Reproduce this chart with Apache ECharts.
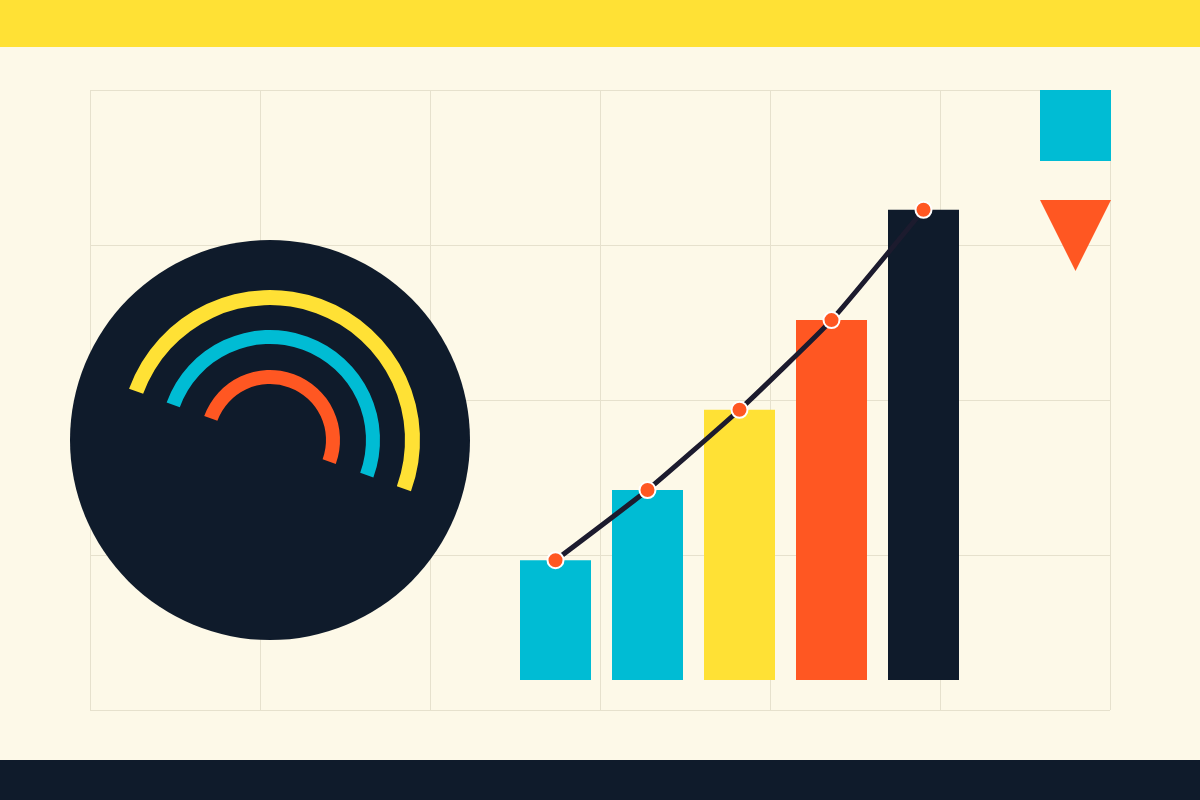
<!DOCTYPE html>
<html>
<head>
<meta charset="utf-8">
<script src="https://cdn.jsdelivr.net/npm/echarts@6/dist/echarts.min.js"></script>
<style>
html,body{margin:0;padding:0;background:#FDF9E8;}
#chart{width:1200px;height:800px;}
</style>
</head>
<body>
<div id="chart"></div>
<script>
// ---- data ----
const categories = ['A', 'B', 'C', 'D', 'E'];
const barValues = [20.3, 32.2, 45.8, 61, 79.7];
const trendValues = [20.3, 32.2, 45.8, 61, 79.7];
const barColors = ['#00BCD4', '#00BCD4', '#FFE135', '#FF5722', '#0F1B2B'];
const arcNames = ['outer', 'middle', 'inner'];
const arcValues = [180, 180, 180];      // degrees of each arc
const arcGaps = [180, 180, 180];        // remaining (hidden) part
const arcColors = ['#FFE135', '#00BCD4', '#FF5722'];
const arcRadii = [[135, 150], [96, 110], [56, 70]];
const discValue = [1];
const legendNames = ['Bars', 'Trend'];

const BG = '#FDF9E8';
const GRIDLINE = '#E6E1CD';
const DARK = '#0F1B2B';

const chart = echarts.init(document.getElementById('chart'), null, {renderer: 'canvas'});

const arcSeries = arcNames.map((n, i) => ({
  type: 'pie',
  name: n,
  silent: true,
  z: 5,
  center: [270, 440],
  radius: arcRadii[i],
  startAngle: 160,
  clockwise: true,
  label: {show: false},
  labelLine: {show: false},
  emphasis: {disabled: true},
  itemStyle: {borderWidth: 0},
  data: [
    {name: n + '-arc', value: arcValues[i], itemStyle: {color: arcColors[i]}},
    {name: n + '-gap', value: arcGaps[i], itemStyle: {color: 'rgba(0,0,0,0)'}}
  ]
}));

const option = {
  backgroundColor: BG,
  animation: false,
  graphic: [
    {type: 'rect', left: 0, top: 0, shape: {width: 1200, height: 47}, style: {fill: '#FFE135'}, silent: true},
    {type: 'rect', left: 0, top: 760, shape: {width: 1200, height: 40}, style: {fill: DARK}, silent: true}
  ],
  legend: {
    orient: 'vertical',
    left: 1040,
    top: 90,
    padding: 0,
    itemWidth: 71,
    itemHeight: 71,
    itemGap: 39,
    selectedMode: false,
    formatter: () => '',
    data: [
      {name: legendNames[0], icon: 'rect', itemStyle: {color: '#00BCD4', borderWidth: 0}},
      {name: legendNames[1], icon: 'path://M0,0L10,0L5,10Z', itemStyle: {color: '#FF5722', borderWidth: 0}}
    ]
  },
  grid: [
    {left: 90, right: 90, top: 90, bottom: 90, show: false},
    {left: 509.5, width: 460, top: 90, bottom: 120, show: false}
  ],
  xAxis: [
    {gridIndex: 0, type: 'value', min: 0, max: 6, interval: 1,
     axisLine: {show: false}, axisTick: {show: false}, axisLabel: {show: false},
     splitLine: {show: true, lineStyle: {color: GRIDLINE, width: 1}}},
    {gridIndex: 1, type: 'category', data: categories,
     axisLine: {show: false}, axisTick: {show: false}, axisLabel: {show: false}, splitLine: {show: false}}
  ],
  yAxis: [
    {gridIndex: 0, type: 'value', min: 0, max: 4, interval: 1,
     axisLine: {show: false}, axisTick: {show: false}, axisLabel: {show: false},
     splitLine: {show: true, lineStyle: {color: GRIDLINE, width: 1}}},
    {gridIndex: 1, type: 'value', min: 0, max: 100,
     axisLine: {show: false}, axisTick: {show: false}, axisLabel: {show: false}, splitLine: {show: false}}
  ],
  series: [
    {
      type: 'pie',
      name: 'disc',
      silent: true,
      z: 3,
      center: [270, 440],
      radius: [0, 200],
      label: {show: false},
      labelLine: {show: false},
      emphasis: {disabled: true},
      itemStyle: {color: DARK, borderWidth: 0},
      data: discValue.map(v => ({name: 'disc', value: v}))
    },
    ...arcSeries,
    {
      type: 'bar',
      name: legendNames[0],
      xAxisIndex: 1,
      yAxisIndex: 1,
      barWidth: 71,
      itemStyle: {color: '#00BCD4'},
      emphasis: {disabled: true},
      data: barValues.map((v, i) => ({value: v, itemStyle: {color: barColors[i]}}))
    },
    {
      type: 'line',
      name: legendNames[1],
      xAxisIndex: 1,
      yAxisIndex: 1,
      smooth: 0.15,
      symbol: 'circle',
      symbolSize: 16,
      z: 10,
      lineStyle: {color: '#1C1B2E', width: 5},
      itemStyle: {color: '#FF5722', borderColor: '#FFFFFF', borderWidth: 2},
      emphasis: {disabled: true},
      data: trendValues
    }
  ]
};
chart.setOption(option);
</script>
</body>
</html>
